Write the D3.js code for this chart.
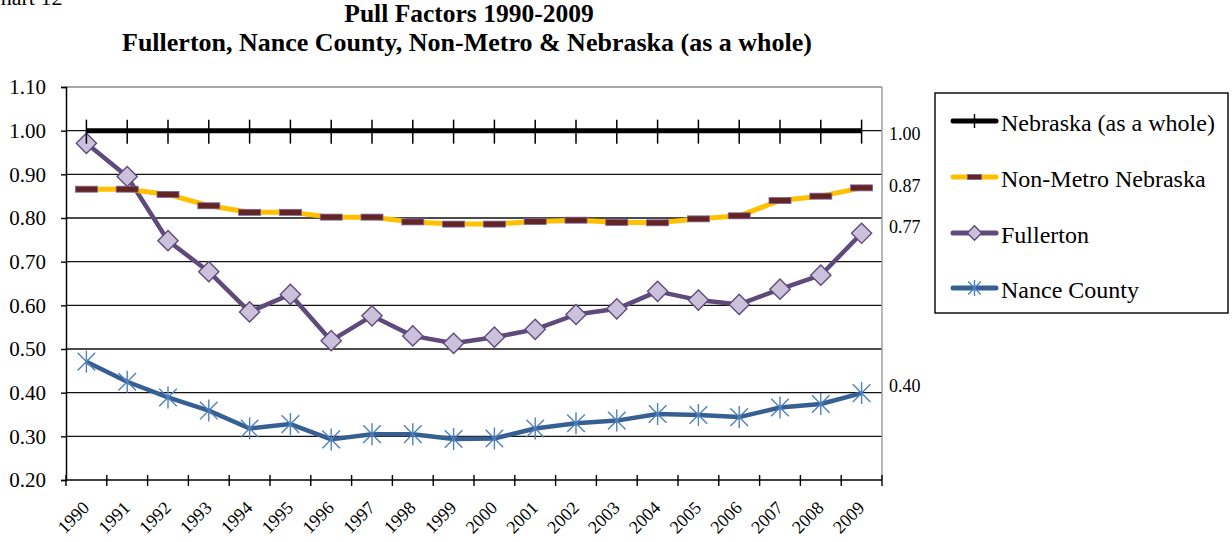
<!DOCTYPE html>
<html>
<head>
<meta charset="utf-8">
<script src="https://cdn.jsdelivr.net/npm/d3@7"></script>
<style>
  body { margin: 0; background: #fff; }
  svg { display: block; font-family: "Liberation Serif", "Times New Roman", serif; }
</style>
</head>
<body>
<div id="chart"></div>
<script>
// chart data
const years = ["1990","1991","1992","1993","1994","1995","1996","1997","1998","1999",
               "2000","2001","2002","2003","2004","2005","2006","2007","2008","2009"];
const nebraska = [1.00,1.00,1.00,1.00,1.00,1.00,1.00,1.00,1.00,1.00,
                  1.00,1.00,1.00,1.00,1.00,1.00,1.00,1.00,1.00,1.00];
const nonMetro = [0.866,0.866,0.854,0.828,0.813,0.813,0.802,0.802,0.791,0.786,
                  0.786,0.792,0.795,0.790,0.789,0.798,0.805,0.840,0.850,0.869];
const fullerton = [0.971,0.895,0.748,0.677,0.585,0.625,0.519,0.576,0.530,0.513,
                   0.527,0.545,0.579,0.592,0.632,0.612,0.602,0.637,0.669,0.765];
const nance = [0.471,0.425,0.389,0.359,0.318,0.328,0.293,0.305,0.305,0.294,
               0.295,0.318,0.330,0.336,0.351,0.349,0.344,0.366,0.374,0.399];
const yTicks = [0.20,0.30,0.40,0.50,0.60,0.70,0.80,0.90,1.00,1.10];
const endLabels = ["1.00","0.87","0.77","0.40"];

const W = 1232, H = 542;
const plot = { left: 66, right: 882, top: 87, bottom: 480 };
const serif = "Liberation Serif, Times New Roman, serif";

const svg = d3.select("#chart").append("svg")
  .attr("width", W).attr("height", H);

// titles (the "Chart 12" caption is clipped by the top edge in the original too)
svg.append("text").attr("x", -14).attr("y", 5)
  .attr("font-size", 22).text("Chart 12");
svg.append("text").attr("x", 469).attr("y", 22)
  .attr("text-anchor", "middle").attr("font-size", 25.5).attr("font-weight", "bold")
  .text("Pull Factors 1990-2009");
svg.append("text").attr("x", 467).attr("y", 51)
  .attr("text-anchor", "middle").attr("font-size", 26).attr("font-weight", "bold")
  .text("Fullerton, Nance County, Non-Metro & Nebraska (as a whole)");

const x = d3.scaleBand().domain(years).range([plot.left, plot.right]);
const cx = d => x(d) + x.bandwidth() / 2;
const y = d3.scaleLinear().domain([0.2, 1.1]).range([plot.bottom, plot.top]);

// gridlines
svg.append("g").selectAll("line")
  .data(yTicks.slice(1))
  .enter().append("line")
  .attr("x1", plot.left).attr("x2", plot.right)
  .attr("y1", d => y(d)).attr("y2", d => y(d))
  .attr("stroke", d => d === 1.1 ? "#888" : "#111")
  .attr("stroke-width", 1.4);

// right border
svg.append("line")
  .attr("x1", plot.right).attr("x2", plot.right)
  .attr("y1", plot.top).attr("y2", plot.bottom)
  .attr("stroke", "#999").attr("stroke-width", 1.4);

// y axis
const yAxis = svg.append("g")
  .attr("transform", `translate(${plot.left},0)`)
  .call(d3.axisLeft(y).tickValues(yTicks).tickFormat(d3.format(".2f")).tickSize(5).tickPadding(15));
yAxis.select(".domain").attr("stroke", "#000").attr("stroke-width", 1.5);
yAxis.selectAll(".tick line").attr("stroke", "#000").attr("stroke-width", 1.4);
yAxis.selectAll("text").attr("font-size", 21).attr("fill", "#000")
  .attr("font-family", serif);

// x axis: ticks on band boundaries, crossing the axis
const xg = svg.append("g");
xg.append("line")
  .attr("x1", plot.left).attr("x2", plot.right)
  .attr("y1", plot.bottom).attr("y2", plot.bottom)
  .attr("stroke", "#000").attr("stroke-width", 1.5);
const bounds = years.map(d => x(d)).concat([plot.right]);
xg.selectAll(".xt").data(bounds).enter().append("line")
  .attr("x1", d => d).attr("x2", d => d)
  .attr("y1", plot.bottom - 5).attr("y2", plot.bottom + 6)
  .attr("stroke", "#000").attr("stroke-width", 1.4);
xg.selectAll(".xl").data(years).enter().append("text")
  .attr("transform", d => `translate(${cx(d) + 4},${plot.bottom + 29}) rotate(-45)`)
  .attr("text-anchor", "end")
  .attr("font-size", 18)
  .text(d => d);

const line = d3.line().x((d, i) => cx(years[i])).y(d => y(d));

// Nance County
const nanceCol = "#376092", nanceMk = "#4F81BD";
svg.append("path").datum(nance).attr("d", line)
  .attr("fill", "none").attr("stroke", nanceCol).attr("stroke-width", 4.5)
  .attr("stroke-linejoin", "round");
function star(g, px, py, r, col) {
  const s = g.append("g").attr("transform", `translate(${px},${py})`)
    .attr("stroke", col).attr("stroke-width", 1.4);
  s.append("line").attr("x1", 0).attr("x2", 0).attr("y1", -r).attr("y2", r);
  s.append("line").attr("x1", -r * 0.8).attr("x2", r * 0.8).attr("y1", -r * 0.8).attr("y2", r * 0.8);
  s.append("line").attr("x1", -r * 0.8).attr("x2", r * 0.8).attr("y1", r * 0.8).attr("y2", -r * 0.8);
}
nance.forEach((v, i) => star(svg, cx(years[i]), y(v), 11, nanceMk));

// Fullerton
const fullCol = "#604A7B", fullFill = "#CCC1DA";
svg.append("path").datum(fullerton).attr("d", line)
  .attr("fill", "none").attr("stroke", fullCol).attr("stroke-width", 4.5)
  .attr("stroke-linejoin", "round");
const diamond = d3.symbol().type(d3.symbolDiamond2).size(260);
svg.selectAll(".fm").data(fullerton).enter().append("path")
  .attr("d", diamond)
  .attr("transform", (d, i) => `translate(${cx(years[i])},${y(d)})`)
  .attr("fill", fullFill).attr("stroke", fullCol).attr("stroke-width", 1.4);

// Non-Metro Nebraska
const nmCol = "#FFC000", nmMk = "#632523";
svg.append("path").datum(nonMetro).attr("d", line)
  .attr("fill", "none").attr("stroke", nmCol).attr("stroke-width", 5)
  .attr("stroke-linejoin", "round");
svg.selectAll(".nm").data(nonMetro).enter().append("rect")
  .attr("x", (d, i) => cx(years[i]) - 11).attr("y", d => y(d) - 3)
  .attr("width", 22).attr("height", 6)
  .attr("fill", nmMk).attr("stroke", "#8064A2").attr("stroke-width", 0.8);

// Nebraska (as a whole)
svg.append("path").datum(nebraska).attr("d", line)
  .attr("fill", "none").attr("stroke", "#000").attr("stroke-width", 5);
svg.selectAll(".nb").data(nebraska).enter().append("line")
  .attr("x1", (d, i) => cx(years[i])).attr("x2", (d, i) => cx(years[i]))
  .attr("y1", d => y(d) - 11).attr("y2", d => y(d) + 13)
  .attr("stroke", "#000").attr("stroke-width", 1.5);

// labels at the last point
const lastVals = [nebraska[19], nonMetro[19], fullerton[19], nance[19]];
const labelDy = [9, 4, 0, -1];
svg.selectAll(".el").data(lastVals).enter().append("text")
  .attr("x", plot.right + 7)
  .attr("y", (d, i) => y(d) + labelDy[i])
  .attr("font-size", 18)
  .text((d, i) => endLabels[i]);

// legend
const lg = svg.append("g");
lg.append("rect").attr("x", 935).attr("y", 93).attr("width", 293).attr("height", 220)
  .attr("fill", "#fff").attr("stroke", "#000").attr("stroke-width", 1.4);
const legendNames = ["Nebraska (as a whole)", "Non-Metro Nebraska", "Fullerton", "Nance County"];
const legendCols = ["#000", nmCol, fullCol, nanceCol];
const ly = [121, 177, 233, 288];
legendNames.forEach((name, i) => {
  lg.append("line").attr("x1", 953).attr("x2", 996).attr("y1", ly[i]).attr("y2", ly[i])
    .attr("stroke", legendCols[i]).attr("stroke-width", 5).attr("stroke-linecap", "round");
  const mx = 974.5;
  if (i === 0) {
    lg.append("line").attr("x1", mx).attr("x2", mx).attr("y1", ly[i] - 7).attr("y2", ly[i] + 7)
      .attr("stroke", "#000").attr("stroke-width", 1.4);
  } else if (i === 1) {
    lg.append("rect").attr("x", mx - 7).attr("y", ly[i] - 2.5).attr("width", 14).attr("height", 5)
      .attr("fill", nmMk).attr("stroke", "#8064A2").attr("stroke-width", 0.8);
  } else if (i === 2) {
    lg.append("path").attr("d", d3.symbol().type(d3.symbolDiamond2).size(130))
      .attr("transform", `translate(${mx},${ly[i]})`)
      .attr("fill", fullFill).attr("stroke", fullCol).attr("stroke-width", 1.4);
  } else {
    star(lg, mx, ly[i], 8, nanceMk);
  }
  lg.append("text").attr("x", 1001).attr("y", ly[i] + 10)
    .attr("font-size", 24).text(name);
});
</script>
</body>
</html>
